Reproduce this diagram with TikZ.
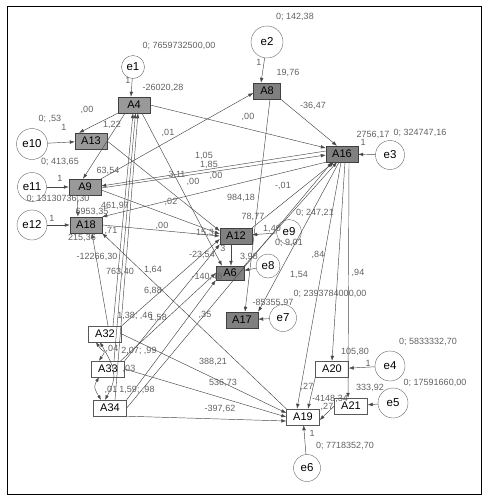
\documentclass[tikz,border=0pt]{standalone}
\usepackage{fontspec}
\setmainfont{Liberation Sans}
\usetikzlibrary{arrows.meta}
\begin{document}
\begin{tikzpicture}[x=1pt,y=-1pt,
 boxd/.style={draw=black!75, fill=black!50, minimum width=32pt, minimum height=16pt, inner sep=0pt, font=\fontsize{11}{11}\selectfont},
 boxl/.style={boxd, fill=black!40},
 boxw/.style={draw=black!65, fill=white, minimum width=33pt, minimum height=16pt, inner sep=0pt, font=\fontsize{11}{11}\selectfont},
 err/.style={circle, draw=black!60, minimum size=28pt, inner sep=0pt, font=\fontsize{11.5}{11.5}\selectfont},
 lbl/.style={text=black!62, font=\fontsize{9}{9}\selectfont, inner sep=0pt},
 ar/.style={draw=black!72, line width=0.45pt, -{Latex[length=5pt,width=3.6pt]}},
 cov/.style={draw=black!72, line width=0.45pt, {Latex[length=4.5pt,width=3.4pt]}-{Latex[length=4.5pt,width=3.4pt]}},
]
\useasboundingbox (0,0) rectangle (490,501);
\draw[line width=0.9pt] (7,6) rectangle (481,494);

% observed variables
\node[boxl] (A4) at (134,105) {A4};
\node[boxl] (A13) at (91,141) {A13};
\node[boxl] (A9) at (85,187) {A9};
\node[boxl] (A18) at (86,225) {A18};
\node[boxd, minimum width=27pt] (A8) at (267,91) {A8};
\node[boxd] (A16) at (342,154) {A16};
\node[boxd] (A12) at (236,236) {A12};
\node[boxd, minimum width=28pt, minimum height=14pt] (A6) at (230,273) {A6};
\node[boxd] (A17) at (242,320) {A17};
\node[boxw] (A32) at (105,334) {A32};
\node[boxw] (A33) at (108,369) {A33};
\node[boxw] (A34) at (110,408) {A34};
\node[boxw] (A20) at (332,369) {A20};
\node[boxw] (A21) at (351,406) {A21};
\node[boxw] (A19) at (303,417) {A19};

% error terms
\node[err, minimum size=23pt] (e1) at (133,67) {e1};
\node[err, minimum size=31pt] (e10) at (32,144) {e10};
\node[err, minimum size=32pt] (e2) at (267,42) {e2};
\node[err, minimum size=29pt] (e3) at (390,155) {e3};
\node[err, minimum size=29pt] (e11) at (32,187) {e11};
\node[err, minimum size=30pt] (e12) at (32,225) {e12};
\node[err, minimum size=25pt] (e9) at (289,232) {e9};
\node[err, minimum size=24pt] (e8) at (268,266) {e8};
\node[err, minimum size=27pt] (e7) at (283,318) {e7};
\node[err, minimum size=30pt] (e4) at (390,366) {e4};
\node[err, minimum size=30pt] (e5) at (393,403) {e5};
\node[err, minimum size=27pt] (e6) at (307,468) {e6};

% error paths
\draw[ar] (e1) -- ([xshift=-3pt]A4.north);
\draw[ar] (e2) -- ([xshift=-6pt]A8.north);
\draw[ar] (e3) -- (A16);
\draw[ar] (e10) -- (A13);
\draw[ar] (e11) -- (A9);
\draw[ar] (e12) -- (A18);
\draw[ar] (e9) -- (A12);
\draw[ar] (e8) -- (A6);
\draw[ar] (e7) -- (A17);
\draw[ar] (e4) -- (A20);
\draw[ar] (e5) -- (A21);
\draw[ar] (e6) -- (A19);

% structural paths
\draw[ar] (A4.south west) -- ([xshift=-12pt]A13.north);
\draw[ar] ([xshift=-9pt]A4.south) -- ([xshift=-2pt]A9.north);
\draw[ar] (A4.east) -- ([yshift=6pt]A16.west);
\draw[ar] ([xshift=8pt]A4.south) -- ([xshift=-8pt]A6.north);
\draw[ar] ([xshift=-8pt]A9.south) -- ([xshift=-8pt]A18.north);
\draw[ar] (A9.north east) -- ([yshift=-2pt]A8.west);
\draw[ar] (A13.east) -- ([yshift=5pt]A12.west);
\draw[ar] ([yshift=-3pt]A9.east) -- ([yshift=2pt]A12.west);
\draw[ar] (A18.east) -- (A12.west);
\draw[ar] ([yshift=3pt]A16.west) -- ([yshift=1pt]A9.east);
\draw[ar] ([yshift=-1pt]A9.east) -- ([yshift=-1pt]A16.west);
\draw[ar] (A16.south west) -- (A18.north east);
\draw[ar] (A8.south east) -- ([xshift=-5pt]A16.north);
\draw[ar] ([xshift=3pt]A8.south) -- ([xshift=3pt]A17.north);
\draw[ar] (A12.north east) -- ([xshift=-8pt]A16.south);
\draw[ar] (A6.north east) -- ([xshift=-5pt]A16.south);
\draw[ar] ([xshift=-5pt]A12.south) -- ([xshift=1pt]A6.north);
\draw[ar] ([xshift=-3pt]A16.south) -- (A17.north east);
\draw[ar] ([xshift=-1pt]A16.south) -- ([xshift=-6pt]A19.north);
\draw[ar] ([xshift=3pt]A16.south) -- (A20.north);
\draw[ar] ([xshift=7pt]A16.south) -- ([xshift=-3pt]A21.north);
\draw[ar] (A20.south west) -- ([xshift=5pt]A19.north);
\draw[ar] (A21.west) -- ([yshift=-3pt]A19.east);
\draw[ar] (A19.north west) -- (A18.south east);

% exogenous paths
\draw[ar] (A32.east) -- ([yshift=4pt]A19.west);
\draw[ar] (A33.east) -- (A19.west);
\draw[ar] (A34.south east) -- ([yshift=-4pt]A19.west);
\draw[ar] ([xshift=8pt]A32.north) -- ([xshift=-1pt]A4.south);
\draw[ar] ([xshift=6pt]A33.north) -- ([xshift=1.5pt]A4.south);
\draw[ar] ([xshift=5pt]A34.north) -- ([xshift=4pt]A4.south);
\draw[ar] ([xshift=3pt]A32.north) -- ([xshift=6pt]A18.south);
\draw[ar] (A32.north east) -- ([yshift=-3pt]A12.west);
\draw[ar] (A33.north east) -- (A12.south west);
\draw[ar] ([xshift=-4pt]A33.north east) -- (A6.west);
\draw[ar] (A34.north east) -- (A6.south west);
\draw[ar] (A34.east) -- ([xshift=-10pt]A16.south);

% covariances
\draw[cov] ([xshift=-9pt]A32.south) .. controls +(8,12) and +(8,-12) .. ([xshift=-9pt]A33.north);
\draw[cov] ([xshift=-9pt]A33.south) .. controls +(-6,10) and +(-6,-10) .. ([xshift=-9pt]A34.north);
\draw[cov] ([xshift=-5pt]A32.south) .. controls +(14,25) and +(14,-25) .. ([xshift=-5pt]A34.north);

% labels
\node[lbl] at (179,46) {0; 7659732500,00};
\node[lbl] at (163,88) {-26020,28};
\node[lbl] at (128,80) {1};
\node[lbl] at (295,17) {0; 142,38};
\node[lbl] at (259,62) {1};
\node[lbl] at (288,73) {19,76};
\node[lbl] at (313,106) {-36,47};
\node[lbl] at (373,135) {2756,17};
\node[lbl] at (363,142) {1};
\node[lbl] at (420,133) {0; 324747,16};
\node[lbl] at (87,110) {,00};
\node[lbl] at (50,119) {0; ,53};
\node[lbl] at (64,127) {1};
\node[lbl] at (112,125) {1,22};
\node[lbl] at (168,133) {,01};
\node[lbl] at (248,117) {,00};
\node[lbl] at (60,162) {0; 413,65};
\node[lbl] at (204,156) {1,05};
\node[lbl] at (209,165) {1,85};
\node[lbl] at (216,176) {,00};
\node[lbl] at (177,175) {3,11};
\node[lbl] at (193,182) {,00};
\node[lbl] at (108,171) {63,54};
\node[lbl] at (60,178) {1};
\node[lbl] at (171,202) {,02};
\node[lbl] at (58,199) {0; 13130736,30};
\node[lbl] at (115,206) {461,97};
\node[lbl] at (92,212) {6953,35};
\node[lbl] at (52,218) {1};
\node[lbl] at (82,238) {215,36};
\node[lbl] at (111,231) {,71};
\node[lbl] at (162,226) {,00};
\node[lbl] at (241,198) {984,18};
\node[lbl] at (283,186) {-,01};
\node[lbl] at (315,213) {0; 247,21};
\node[lbl] at (253,217) {78,77};
\node[lbl] at (205,233) {15,3};
\node[lbl] at (272,229) {1,40};
\node[lbl] at (289,243) {0; 9,01};
\node[lbl] at (202,255) {-23,54};
\node[lbl] at (223,248) {3};
\node[lbl] at (249,257) {3,98};
\node[lbl] at (207,277) {-140,48};
\node[lbl] at (318,255) {,84};
\node[lbl] at (299,275) {1,54};
\node[lbl] at (358,273) {,94};
\node[lbl] at (330,294) {0; 2393784000,00};
\node[lbl] at (273,303) {-85355,97};
\node[lbl] at (97,257) {-12266,30};
\node[lbl] at (120,272) {763,40};
\node[lbl] at (153,270) {1,64};
\node[lbl] at (153,291) {6,88};
\node[lbl] at (135,316) {1,38; ,46};
\node[lbl] at (158,318) {1,58};
\node[lbl] at (205,315) {,35};
\node[lbl] at (112,349) {,04};
\node[lbl] at (139,351) {2,07; ,99};
\node[lbl] at (129,369) {,03};
\node[lbl] at (111,390) {,01};
\node[lbl] at (137,390) {1,59; ,98};
\node[lbl] at (213,362) {388,21};
\node[lbl] at (223,383) {536,73};
\node[lbl] at (220,409) {-397,62};
\node[lbl] at (428,342) {0; 5833332,70};
\node[lbl] at (355,352) {105,80};
\node[lbl] at (368,363) {1};
\node[lbl] at (435,383) {0; 17591660,00};
\node[lbl] at (370,388) {333,92};
\node[lbl] at (307,387) {,27};
\node[lbl] at (330,399) {-4148,34};
\node[lbl] at (327,407) {,27};
\node[lbl] at (312,433) {1};
\node[lbl] at (345,446) {0; 7718352,70};
\end{tikzpicture}
\end{document}
